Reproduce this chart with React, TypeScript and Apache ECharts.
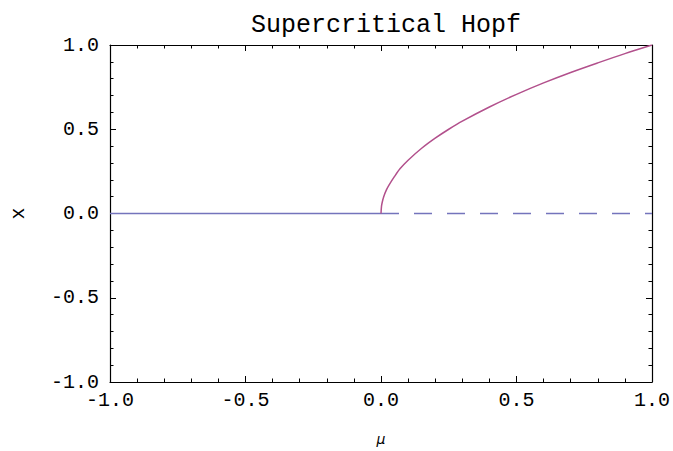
import React, { useEffect, useRef } from "react";
import * as echarts from "echarts";

const stableMu = [-1.0, 0.0];
const stableX = [0.0, 0.0];
const unstableMu = [0.0, 1.0];
const unstableX = [0.0, 0.0];
const branchMu = [0, 0.002, 0.005, 0.01, 0.02, 0.03, 0.05, 0.07, 0.1, 0.15, 0.2, 0.25, 0.3, 0.4, 0.5, 0.6, 0.7, 0.8, 0.9, 1.0];
const branchX = [0, 0.045, 0.07, 0.1, 0.14, 0.17, 0.22, 0.265, 0.316, 0.387, 0.447, 0.5, 0.548, 0.632, 0.707, 0.775, 0.837, 0.894, 0.949, 1.0];

const FONT = "'Liberation Mono', 'DejaVu Sans Mono', monospace";
const BLUE = "#7474bc";
const PURPLE = "#b2508c";

function pairs(xs: number[], ys: number[]) {
  return xs.map((x, i) => [x, ys[i]]);
}

export default function App() {
  const ref = useRef<HTMLDivElement>(null);
  useEffect(() => {
    if (!ref.current) return;
    const chart = echarts.init(ref.current, undefined, { renderer: "svg" });
    const fmt = (v: number) => v.toFixed(1);
    const tickCommon = {
      axisLine: { show: true, onZero: false, lineStyle: { color: "#000", width: 1.2 } },
      axisTick: { show: true, inside: true, length: 6, lineStyle: { color: "#000" } },
      minorTick: { show: true, splitNumber: 5, length: 3.5, lineStyle: { color: "#000" } },
      splitLine: { show: false },
    };
    chart.setOption({
      animation: false,
      backgroundColor: "#fff",
      title: {
        text: "Supercritical Hopf",
        left: 381,
        textAlign: "center",
        top: 8,
        textStyle: { fontFamily: FONT, fontSize: 25, fontWeight: "normal", color: "#000" },
      },
      grid: { left: 104, right: 19, top: 45, bottom: 66, containLabel: false },
      xAxis: [
        {
          type: "value",
          min: -1,
          max: 1,
          interval: 0.5,
          position: "bottom",
          name: "μ",
          nameLocation: "middle",
          nameGap: 50,
          nameTextStyle: { fontFamily: "'DejaVu Sans', sans-serif", fontStyle: "italic", fontSize: 14, color: "#000" },
          axisLabel: { formatter: fmt, fontFamily: FONT, fontSize: 20, color: "#000", margin: 8 },
          ...tickCommon,
        },
        {
          type: "value",
          min: -1,
          max: 1,
          interval: 0.5,
          position: "top",
          axisLabel: { show: false },
          ...tickCommon,
        },
      ],
      yAxis: [
        {
          type: "value",
          min: -1,
          max: 1,
          interval: 0.5,
          position: "left",
          name: "x",
          nameLocation: "middle",
          nameGap: 82,
          nameRotate: 90,
          nameTextStyle: { fontFamily: FONT, fontSize: 20, color: "#000" },
          axisLabel: { formatter: fmt, fontFamily: FONT, fontSize: 20, color: "#000", margin: 11 },
          ...tickCommon,
        },
        {
          type: "value",
          min: -1,
          max: 1,
          interval: 0.5,
          position: "right",
          axisLabel: { show: false },
          ...tickCommon,
        },
      ],
      series: [
        {
          type: "line",
          data: pairs(stableMu, stableX),
          showSymbol: false,
          lineStyle: { color: BLUE, width: 1.5 },
          z: 2,
        },
        {
          type: "line",
          data: pairs(unstableMu, unstableX),
          showSymbol: false,
          lineStyle: { color: BLUE, width: 1.5, type: [18, 15] },
          z: 2,
        },
        {
          type: "line",
          data: pairs(branchMu, branchX),
          showSymbol: false,
          smooth: 0.3,
          lineStyle: { color: PURPLE, width: 1.5 },
          z: 3,
        },
      ],
    });
    return () => chart.dispose();
  }, []);
  return <div ref={ref} style={{ position: "absolute", left: 0, top: 0, width: 673, height: 451 }} />;
}
